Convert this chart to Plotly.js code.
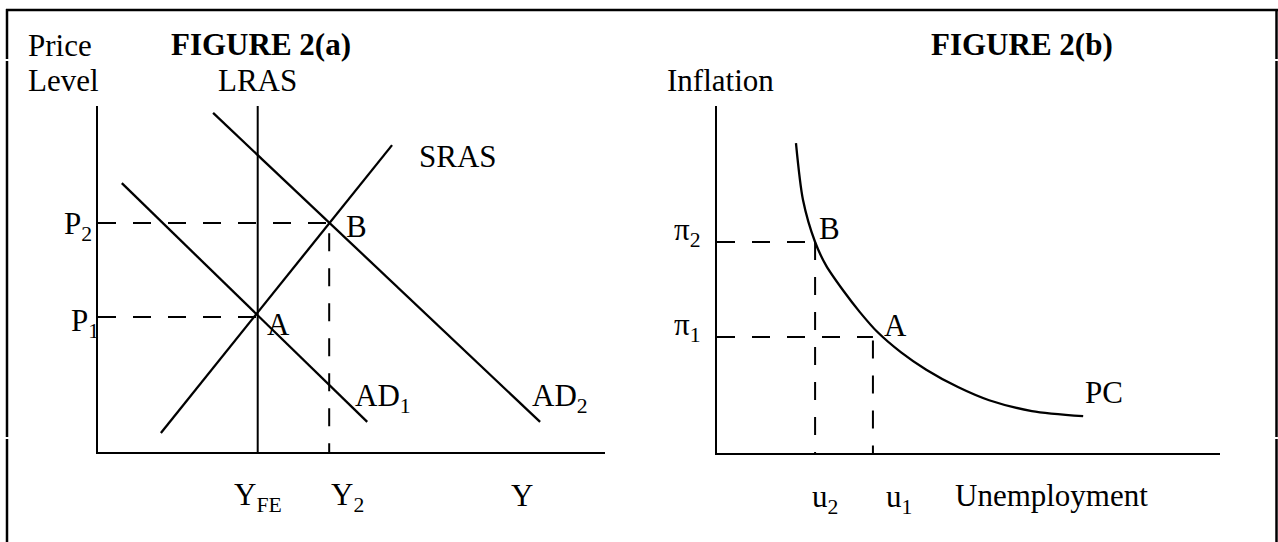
<!DOCTYPE html>
<html>
<head>
<meta charset="utf-8">
<script src="https://cdn.plot.ly/plotly-3.0.1.min.js"></script>
<style>html,body{margin:0;padding:0;background:#fff;}#chart{width:1278px;height:542px;}</style>
</head>
<body>
<div id="chart"></div>
<script>
// ---------- DATA (Figure 2(a): AD / AS, units of the panel axes 0..100) ----------
const lrasX = [31.5, 31.5];
const lrasY = [0, 100];
const srasX = [12.4, 58.0];
const srasY = [5.5, 88.7];
const ad1X = [4.7, 53.1];
const ad1Y = [77.7, 8.7];
const ad2X = [22.7, 87.2];
const ad2Y = [98.0, 8.7];
const pointA = [31.5, 39.0];   // (Y_FE, P1)
const pointB = [45.6, 66.2];   // (Y2, P2)

// ---------- DATA (Figure 2(b): Phillips curve) ----------
const pcX = [15.7, 17.1, 19.5, 21.7, 25.2, 28.4, 31.8, 36.6, 41.6, 47.9, 54.1, 62.6, 72.8];
const pcY = [89.3, 72.9, 60.8, 54.0, 46.6, 40.6, 35.0, 29.0, 24.0, 19.0, 15.2, 12.1, 10.6];
const pointA2 = [31.0, 33.4];  // (u1, pi1)
const pointB2 = [19.5, 60.8];  // (u2, pi2)

// ---------- LAYOUT HELPERS ----------
const W = 1278, H = 542;
const PX = p => p / W;
const PY = p => 1 - p / H;
const FONT = "Liberation Serif, Times New Roman, serif";
const FS = 31;

const solid = (x, y, xa, ya, w) => ({x, y, xaxis: xa, yaxis: ya, mode: 'lines', hoverinfo: 'skip',
  line: {color: '#000', width: w || 2.3}});
const dashed = (x, y, xa, ya) => ({x, y, xaxis: xa, yaxis: ya, mode: 'lines', hoverinfo: 'skip',
  line: {color: '#000', width: 2, dash: '18px,17px'}});

const traces = [
  solid(lrasX, lrasY, 'x', 'y', 2),
  solid(srasX, srasY, 'x', 'y'),
  solid(ad1X, ad1Y, 'x', 'y'),
  solid(ad2X, ad2Y, 'x', 'y'),
  dashed([0, pointA[0]], [pointA[1], pointA[1]], 'x', 'y'),
  dashed([0, pointB[0]], [pointB[1], pointB[1]], 'x', 'y'),
  dashed([pointB[0], pointB[0]], [pointB[1] - 3, 0], 'x', 'y'),
  Object.assign(solid(pcX, pcY, 'x2', 'y2', 2.3), {line: {color: '#000', width: 2.3, shape: 'spline', smoothing: 0.8}}),
  dashed([0, pointB2[0]], [pointB2[1], pointB2[1]], 'x2', 'y2'),
  dashed([pointB2[0], pointB2[0]], [pointB2[1], 0], 'x2', 'y2'),
  dashed([0, pointA2[0]], [pointA2[1], pointA2[1]], 'x2', 'y2'),
  dashed([pointA2[0], pointA2[0]], [pointA2[1] - 1, 0], 'x2', 'y2')
];

const ax = (domain, anchor) => ({domain, anchor, range: [0, 100], showgrid: false, zeroline: false,
  showticklabels: false, ticks: '', showline: true, linecolor: '#000', linewidth: 2, fixedrange: true});

const ann = (text, x, y, opts) => Object.assign({text, x, y, xref: 'paper', yref: 'paper',
  xanchor: 'left', yanchor: 'middle', showarrow: false, font: {family: FONT, size: FS, color: '#000'}}, opts || {});

const annotations = [
  ann('Price', PX(26), PY(46)),
  ann('Level', PX(26), PY(81)),
  ann('<b>FIGURE 2(a)</b>', PX(169), PY(45)),
  ann('LRAS', lrasX[0], PY(81), {xref: 'x', xanchor: 'center'}),
  ann('SRAS', PX(417), PY(156)),
  ann('P<sub>2</sub>', PX(94), pointB[1], {yref: 'y', xanchor: 'right', yshift: -3}),
  ann('P<sub>1</sub>', PX(101), pointA[1], {yref: 'y', xanchor: 'right', yshift: -6}),
  ann('A', PX(265), PY(324)),
  ann('B', PX(344), PY(226)),
  ann('AD<sub>1</sub>', PX(353), PY(398)),
  ann('AD<sub>2</sub>', PX(530), PY(398)),
  ann('Y<sub>FE</sub>', lrasX[0], PY(497), {xref: 'x', xanchor: 'center'}),
  ann('Y<sub>2</sub>', pointB[0], PY(497), {xref: 'x', xanchor: 'left'}),
  ann('Y', PX(509), PY(495)),
  ann('<b>FIGURE 2(b)</b>', PX(929), PY(45)),
  ann('Inflation', PX(665), PY(81)),
  ann('π<sub>2</sub>', PX(672), pointB2[1], {yref: 'y2', yshift: 10}),
  ann('π<sub>1</sub>', PX(672), pointA2[1], {yref: 'y2', yshift: 10}),
  ann('B', PX(817), PY(228)),
  ann('A', PX(882), PY(325)),
  ann('PC', PX(1083), PY(392)),
  ann('u<sub>2</sub>', PX(810), PY(499)),
  ann('u<sub>1</sub>', PX(884), PY(499)),
  ann('Unemployment', PX(953), PY(495))
];

const bl = {color: '#000', width: 2.5};
const shapes = [
  {type: 'line', xref: 'paper', yref: 'paper', x0: PX(6), x1: PX(1278), y0: PY(10), y1: PY(10), line: bl},
  {type: 'line', xref: 'paper', yref: 'paper', x0: PX(7), x1: PX(7), y0: PY(9), y1: PY(59), line: bl},
  {type: 'line', xref: 'paper', yref: 'paper', x0: PX(7), x1: PX(7), y0: PY(61), y1: PY(437), line: bl},
  {type: 'line', xref: 'paper', yref: 'paper', x0: PX(7), x1: PX(7), y0: PY(439), y1: PY(542), line: bl},
  {type: 'line', xref: 'paper', yref: 'paper', x0: PX(1276.5), x1: PX(1276.5), y0: PY(9), y1: PY(59), line: bl},
  {type: 'line', xref: 'paper', yref: 'paper', x0: PX(1276.5), x1: PX(1276.5), y0: PY(61), y1: PY(437), line: bl},
  {type: 'line', xref: 'paper', yref: 'paper', x0: PX(1276.5), x1: PX(1276.5), y0: PY(439), y1: PY(542), line: bl}
];

const layout = {
  width: W, height: H, margin: {l: 0, r: 0, t: 0, b: 0},
  paper_bgcolor: '#fff', plot_bgcolor: 'rgba(0,0,0,0)', showlegend: false,
  xaxis: ax([PX(98), PX(605)], 'y'),
  yaxis: ax([PY(452), PY(106)], 'x'),
  xaxis2: ax([PX(717), PX(1220)], 'y2'),
  yaxis2: ax([PY(453), PY(106)], 'x2'),
  annotations, shapes
};

Plotly.newPlot('chart', traces, layout, {displayModeBar: false, staticPlot: true});
</script>
</body>
</html>
